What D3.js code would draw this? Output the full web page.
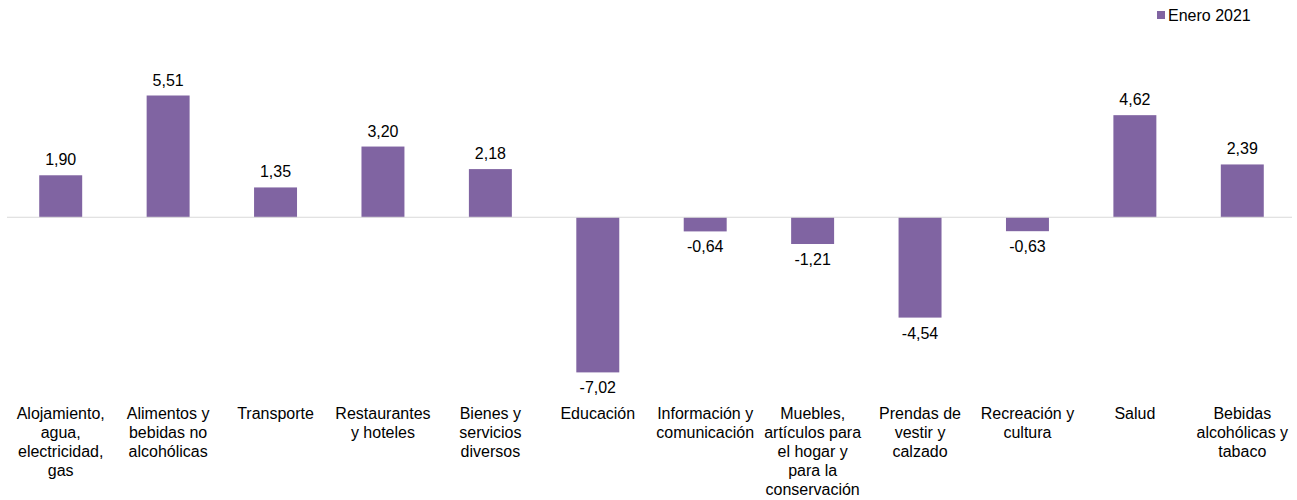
<!DOCTYPE html>
<html>
<head>
<meta charset="utf-8">
<script src="https://cdn.jsdelivr.net/npm/d3@7"></script>
<style>
  body { margin: 0; background: #fff; }
  svg text { font-family: "Liberation Sans", Arial, sans-serif; fill: #000; }
</style>
</head>
<body>
<script>
/*
DATA
*/
const categories = [
  "Alojamiento, agua, electricidad, gas",
  "Alimentos y bebidas no alcohólicas",
  "Transporte",
  "Restaurantes y hoteles",
  "Bienes y servicios diversos",
  "Educación",
  "Información y comunicación",
  "Muebles, artículos para el hogar y para la conservación",
  "Prendas de vestir y calzado",
  "Recreación y cultura",
  "Salud",
  "Bebidas alcohólicas y tabaco"
]
// label lines as they wrap in the picture
const labelLines = [
  ["Alojamiento,", "agua,", "electricidad,", "gas"],
  ["Alimentos y", "bebidas no", "alcohólicas"],
  ["Transporte"],
  ["Restaurantes", "y hoteles"],
  ["Bienes y", "servicios", "diversos"],
  ["Educación"],
  ["Información y", "comunicación"],
  ["Muebles,", "artículos para", "el hogar y", "para la", "conservación"],
  ["Prendas de", "vestir y", "calzado"],
  ["Recreación y", "cultura"],
  ["Salud"],
  ["Bebidas", "alcohólicas y", "tabaco"]
]
const values = [1.90, 5.51, 1.35, 3.20, 2.18, -7.02, -0.64, -1.21, -4.54, -0.63, 4.62, 2.39]
const seriesName = "Enero 2021"

/*
SET UP
*/
const w = 1297
const h = 500
const color = "#8064a2"
const fontSize = "16px"

const svg = d3.select("body")
  .append("svg")
  .attr("width", w)
  .attr("height", h);

const x = d3.scaleBand()
  .domain(d3.range(categories.length))
  .range([7, 1296])
  .paddingInner(0.6)
  .paddingOuter(0.3);

const y = d3.scaleLinear()
  .domain([-7.02, 5.51])
  .range([372.4, 95.5]);

const fmt = (d) => d.toFixed(2).replace(".", ",");

/*
BARS
*/
svg.selectAll(".bar")
  .data(values)
  .join("rect")
  .attr("class", "bar")
  .attr("x", (d, i) => x(i))
  .attr("y", (d) => y(Math.max(0, d)))
  .attr("width", x.bandwidth())
  .attr("height", (d) => Math.abs(y(d) - y(0)))
  .attr("fill", color);

// zero line
svg.append("line")
  .attr("x1", 7)
  .attr("x2", 1292)
  .attr("y1", y(0))
  .attr("y2", y(0))
  .attr("stroke", "#d9d9d9")
  .attr("stroke-width", 1);

/*
VALUE LABELS
*/
svg.selectAll(".val")
  .data(values)
  .join("text")
  .attr("class", "val")
  .attr("x", (d, i) => x(i) + x.bandwidth() / 2)
  .attr("y", (d) => d >= 0 ? y(d) - 10 : y(d) + 21)
  .attr("text-anchor", "middle")
  .style("font-size", fontSize)
  .text(fmt);

/*
CATEGORY LABELS
*/
const cat = svg.selectAll(".cat")
  .data(labelLines)
  .join("text")
  .attr("class", "cat")
  .attr("text-anchor", "middle")
  .style("font-size", fontSize);

cat.selectAll("tspan")
  .data((d, i) => d.map((t) => ({t: t, i: i})))
  .join("tspan")
  .attr("x", (d) => x(d.i) + x.bandwidth() / 2)
  .attr("y", (d, j) => 419 + j * 19)
  .text((d) => d.t);

/*
LEGEND
*/
svg.append("rect")
  .attr("x", 1157)
  .attr("y", 11)
  .attr("width", 8)
  .attr("height", 8)
  .attr("fill", color);

svg.append("text")
  .attr("x", 1168)
  .attr("y", 21)
  .style("font-size", fontSize)
  .text(seriesName);
</script>
</body>
</html>
